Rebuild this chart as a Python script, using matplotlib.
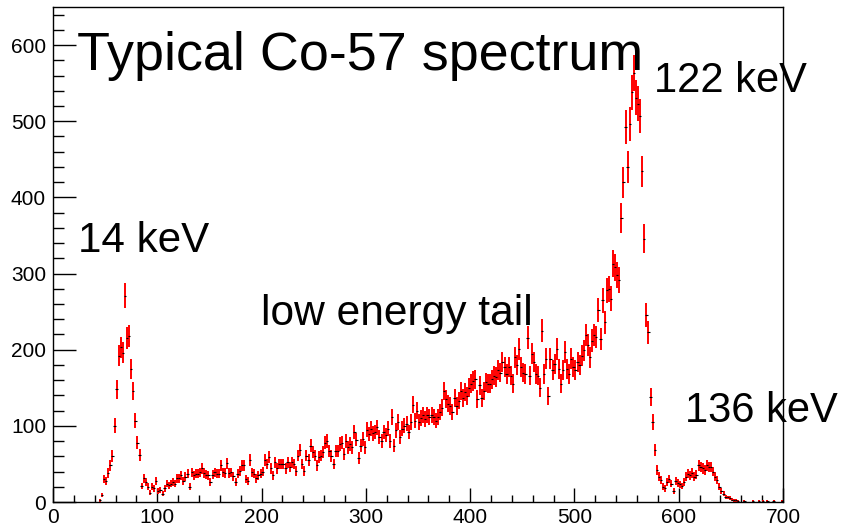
import numpy as np
import matplotlib
matplotlib.use('Agg')
import matplotlib.pyplot as plt
from matplotlib.ticker import MultipleLocator

plt.rcParams['font.family'] = ['Liberation Sans', 'DejaVu Sans']

# histogram: 2-unit bins, first bin starts at 44
first_edge = 44
bin_width = 2
counts = np.array([
    2, 9, 30, 28, 38, 48, 60, 100, 148, 192,
    203, 196, 271, 215, 218, 175, 146, 107, 78, 62,
    21, 31, 26, 20, 12, 20, 18, 28, 14, 16,
    11, 18, 24, 22, 24, 26, 24, 31, 31, 35,
    28, 33, 37, 20, 39, 35, 37, 37, 39, 44,
    38, 36, 35, 26, 36, 39, 37, 37, 48, 39,
    38, 51, 38, 39, 34, 26, 37, 41, 48, 48,
    30, 28, 55, 39, 37, 31, 35, 37, 40, 55,
    50, 59, 44, 35, 52, 44, 50, 50, 50, 44,
    52, 46, 52, 50, 41, 61, 68, 50, 41, 61,
    55, 74, 66, 61, 48, 59, 61, 66, 78, 80,
    67, 60, 50, 67, 67, 76, 78, 63, 80, 72,
    76, 72, 92, 82, 58, 74, 83, 72, 95, 89,
    96, 90, 92, 98, 85, 80, 92, 88, 96, 80,
    111, 74, 94, 105, 85, 96, 100, 103, 92, 105,
    128, 107, 120, 105, 110, 114, 109, 114, 111, 114,
    111, 107, 111, 118, 124, 146, 135, 129, 126, 118,
    137, 126, 133, 146, 137, 144, 139, 150, 155, 159,
    161, 135, 153, 137, 146, 157, 155, 155, 161, 166,
    164, 173, 170, 184, 177, 168, 177, 166, 155, 190,
    180, 201, 177, 170, 168, 216, 166, 195, 184, 168,
    166, 150, 225, 168, 188, 139, 188, 173, 181, 201,
    175, 155, 173, 197, 175, 168, 188, 177, 173, 184,
    180, 192, 199, 219, 206, 190, 212, 219, 217, 252,
    214, 265, 236, 278, 280, 267, 313, 308, 298, 291,
    373, 420, 492, 440, 496, 538, 563, 531, 523, 507,
    434, 346, 246, 223, 138, 105, 68, 42, 33, 29,
    20, 18, 26, 30, 24, 15, 27, 25, 23, 21,
    26, 33, 37, 35, 38, 33, 36, 48, 46, 44,
    42, 48, 46, 46, 40, 33, 29, 20, 15, 11,
    7, 6, 5, 3, 2, 2, 1, 0, 0, 1,
    0, 0, 0, 1, 0, 0, 1, 0, 1, 0,
    1, 0, 0, 1, 0, 0, 0, 1,
])

centers = first_edge + bin_width * (np.arange(len(counts)) + 0.5)
keep = counts > 0
x = centers[keep]
y = counts[keep]
err = np.sqrt(y)

W, H = 844, 529
fig = plt.figure(figsize=(W / 100, H / 100), dpi=100)
ax = fig.add_axes([53 / W, (H - 502) / H, 730 / W, 495 / H])

ax.errorbar(x, y, yerr=err, fmt='none', ecolor='red', elinewidth=1.4)
ax.hlines(y, x - 1.1, x + 1.1, colors='black', lw=0.8)

ax.set_xlim(0, 700)
ax.set_ylim(0, 650)

ax.xaxis.set_major_locator(MultipleLocator(100))
ax.xaxis.set_minor_locator(MultipleLocator(20))
ax.yaxis.set_major_locator(MultipleLocator(100))
ax.yaxis.set_minor_locator(MultipleLocator(20))
ax.tick_params(axis='both', which='both', direction='in', top=False, right=False,
               width=1, color='black', labelsize=15)
ax.tick_params(axis='x', which='major', length=10, pad=4)
ax.tick_params(axis='x', which='minor', length=5)
ax.tick_params(axis='y', which='major', length=16.5, pad=5)
ax.tick_params(axis='y', which='minor', length=8)
for s in ax.spines.values():
    s.set_linewidth(1)
    s.set_color('black')

# annotations (figure pixel positions, baseline anchored)
def put(text, px, py, size):
    fig.text(px / W, 1 - py / H, text, fontsize=size, ha='left', va='baseline')

put('Typical Co-57 spectrum', 77, 70, 38.8)
put('122 keV', 654, 92, 30)
put('14 keV', 78, 252, 30.3)
put('low energy tail', 261, 325, 30.6)
put('136 keV', 685, 422, 30)

fig.savefig('out.png', dpi=100)
